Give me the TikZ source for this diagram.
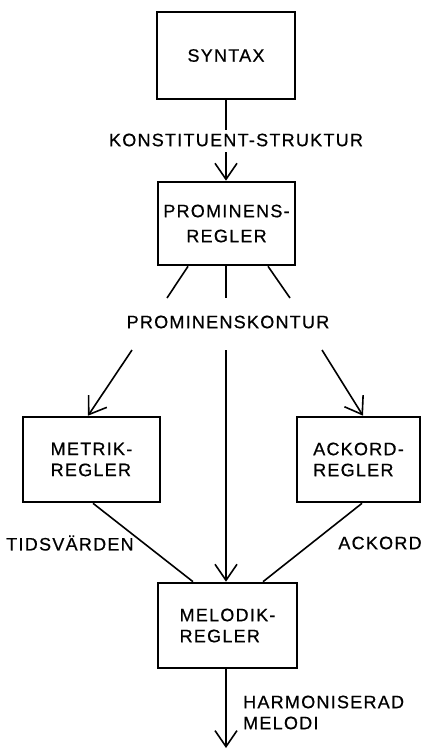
\documentclass[tikz,border=0pt]{standalone}
\usepackage{fontspec}
\setmainfont{Liberation Sans}[LetterSpace=7,FakeBold=0.6]
\usetikzlibrary{arrows.meta}
\begin{document}
\begin{tikzpicture}[x=1pt,y=-1pt,
  box/.style={draw,line width=2.6pt,rectangle,inner sep=0pt,font=\fontsize{18}{21}\selectfont},
  lbl/.style={inner sep=0pt,font=\fontsize{18}{21}\selectfont},
  conn/.style={line width=1.6pt},
  arr/.style={line width=1.6pt,-{Straight Barb[length=16pt,width=22pt,line width=1.6pt]}}]
\useasboundingbox (0,0) rectangle (421,750);
% boxes
\node[box,minimum width=138pt,minimum height=87pt] (syn) at (226,55.5) {SYNTAX};
\node[box,minimum width=137pt,minimum height=83pt,align=center,font=\fontsize{18}{25}\selectfont] (prom) at (226.5,223.5) {PROMINENS-\\REGLER};
\node[box,minimum width=137pt,minimum height=85pt,align=left] (met) at (91.5,459.5) {METRIK-\\REGLER};
\node[box,minimum width=123pt,minimum height=85pt,align=left] (ack) at (358.5,459.5) {ACKORD-\\REGLER};
\node[box,minimum width=139pt,minimum height=85pt,align=left] (mel) at (227.5,625.5) {MELODIK-\\REGLER};
% labels
\node[lbl] (konst) at (236,140) {KONSTITUENT-STRUKTUR};
\node[lbl] (pkont) at (228,322) {PROMINENSKONTUR};
\node[lbl] (tids) at (70,543) {TIDSVÄRDEN};
\node[lbl] (ackl) at (380,543) {ACKORD};
\node[lbl,align=left,anchor=west] (harm) at (243,712.5) {HARMONISERAD\\MELODI};
% coordinates
\coordinate (k1) at (226,130);
\coordinate (k2) at (226,152);
\coordinate (l1) at (167,298);
\coordinate (l2) at (132,350);
\coordinate (m1) at (226,298);
\coordinate (m2) at (226,350);
\coordinate (r1) at (290,298);
\coordinate (r2) at (322,350);
\coordinate (out) at (226,748);
% connectors
\draw[conn] (syn.south) -- (k1);
\draw[arr] (k2) -- (prom.north -| k2);
\draw[conn] ([xshift=-38.5pt]prom.south) -- (l1);
\draw[conn] (prom.south -| m1) -- (m1);
\draw[conn] ([xshift=41.5pt]prom.south) -- (r1);
\draw[arr] (l2) -- ([xshift=-3.5pt]met.north);
\draw[arr] (r2) -- ([xshift=4.5pt]ack.north);
\draw[arr] (m2) -- (mel.north -| m2);
\draw[conn] ([xshift=1.5pt]met.south) -- ([xshift=-34.5pt]mel.north);
\draw[conn] ([xshift=3.5pt]ack.south) -- ([xshift=35.5pt]mel.north);
\draw[arr] (mel.south -| out) -- (out);
\end{tikzpicture}
\end{document}
